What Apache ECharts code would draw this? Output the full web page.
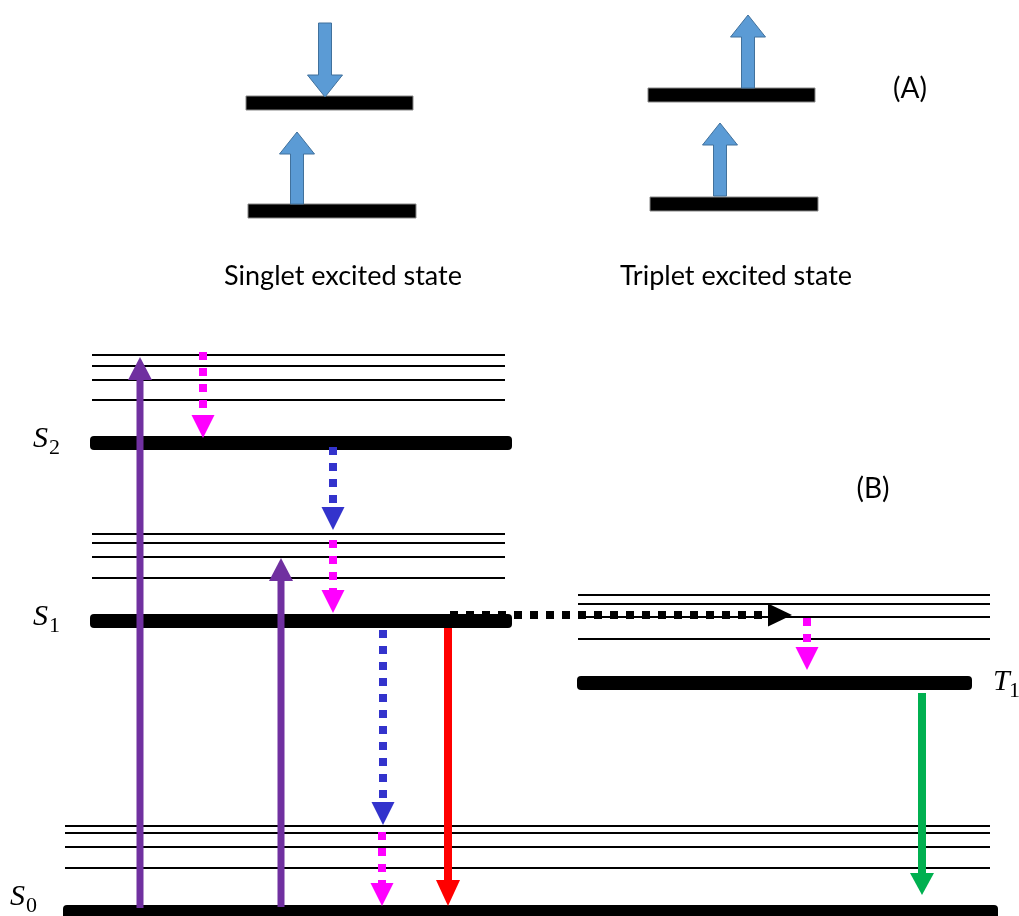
<!DOCTYPE html>
<html><head><meta charset="utf-8">
<script src="https://cdn.jsdelivr.net/npm/echarts@6/dist/echarts.min.js"></script>
<style>html,body{margin:0;padding:0;background:#fff}#c{width:1019px;height:916px}</style>
</head><body><div id="c"></div>
<script>
// ---- Diagram data (diagram units; y grows downward = lower energy) ----
// vibrational sub-levels
const s2Vib = [355, 366, 380, 400];
const s1Vib = [534, 543, 557, 578];
const t1Vib = [595, 604, 617, 639];
const s0Vib = [826, 833, 847, 868];
const singletSpan = [92, 505];
const tripletSpan = [578, 990];
const groundSpan = [65, 990];
// electronic states [x0, x1, y]
const stateBars = [[90, 512, 443], [90, 512, 621], [577, 972, 683], [63, 998, 912]];
const panelABars = [[246, 413, 103], [248, 416, 211], [648, 815, 95], [650, 818, 204]];
// spin arrows in panel A [x, yTail, yTip]
const spinArrows = [[325, 23, 97], [297, 204, 132], [748, 88, 15], [720, 196, 123]];
// transitions [x0, y0, x1, y1]
const absorption = [[140, 908, 357], [281, 907, 558]].map(a => [a[0], a[1], a[0], a[2]]);
const fluorescence = [[448, 628, 448, 906]];
const phosphorescence = [[922, 693, 922, 895]];
const internalConversion = [[333, 447, 333, 530], [383, 630, 383, 825]];
const vibRelaxation = [[203, 352, 203, 438], [333, 540, 333, 613], [382, 832, 382, 906], [807, 618, 807, 670]];
const intersystemCrossing = [[450, 615, 792, 615]];
// labels
const stateLabels = [['S', '2', 33, 439], ['S', '1', 33, 617], ['S', '0', 10, 897], ['T', '1', 993, 682]];
const panelLabels = [['(A)', 910, 89], ['(B)', 873, 489]];
const captions = [['Singlet excited state', 343, 276], ['Triplet excited state', 736, 276]];

const thinLevels = [];
s2Vib.forEach(y => thinLevels.push([singletSpan[0], singletSpan[1], y]));
s1Vib.forEach(y => thinLevels.push([singletSpan[0], singletSpan[1], y]));
t1Vib.forEach(y => thinLevels.push([tripletSpan[0], tripletSpan[1], y]));
s0Vib.forEach(y => thinLevels.push([groundSpan[0], groundSpan[1], y]));

function levelRender(params, api) {
  const a = api.coord([api.value(0), api.value(2)]);
  const b = api.coord([api.value(1), api.value(2)]);
  return { type: 'line', shape: { x1: a[0], y1: a[1], x2: b[0], y2: b[1] },
    style: { stroke: '#000', lineWidth: 2 } };
}
function barRender(r, stroke) {
  return function (params, api) {
    const a = api.coord([api.value(0), api.value(2)]);
    const b = api.coord([api.value(1), api.value(2)]);
    return { type: 'rect', shape: { x: a[0], y: a[1] - 7, width: b[0] - a[0], height: 14, r: r },
      style: { fill: '#000', stroke: stroke || null, lineWidth: stroke ? 1 : 0 } };
  };
}
function arrowRender(o) {
  return function (params, api) {
    const p0 = api.coord([api.value(0), api.value(1)]);
    const p1 = api.coord([api.value(2), api.value(3)]);
    const dx = p1[0] - p0[0], dy = p1[1] - p0[1];
    const len = Math.hypot(dx, dy), ux = dx / len, uy = dy / len;
    const bx = p1[0] - ux * o.head, by = p1[1] - uy * o.head;
    const px = -uy, py = ux;
    const ext = o.dash ? 0 : 2;
    return { type: 'group', children: [
      { type: 'line', shape: { x1: p0[0], y1: p0[1], x2: bx + ux * ext, y2: by + uy * ext },
        style: { stroke: o.color, lineWidth: o.width, lineDash: o.dash || null, lineCap: 'butt' } },
      { type: 'polygon', shape: { points: [[p1[0], p1[1]], [bx + px * o.half, by + py * o.half], [bx - px * o.half, by - py * o.half]] },
        style: { fill: o.color } }
    ] };
  };
}
function spinRender(params, api) {
  const x = api.value(0);
  const t = api.coord([x, api.value(1)]);
  const p = api.coord([x, api.value(2)]);
  const dir = p[1] < t[1] ? -1 : 1;
  const hl = 22, hw = 17.5, sw = 6.5;
  const by = p[1] - dir * hl;
  return { type: 'polygon', shape: { points: [
      [p[0], p[1]], [p[0] + hw, by], [p[0] + sw, by], [p[0] + sw, t[1]],
      [p[0] - sw, t[1]], [p[0] - sw, by], [p[0] - hw, by]] },
    style: { fill: '#5B9BD5', stroke: '#41719C', lineWidth: 1 } };
}
function stateLabelRender(params, api) {
  const l = stateLabels[params.dataIndex];
  const c = api.coord([l[2], l[3]]);
  return { type: 'group', children: [
    { type: 'text', x: c[0], y: c[1], style: { text: l[0], fontFamily: 'Liberation Serif', fontStyle: 'italic',
      fontSize: 30, fill: '#000', align: 'left', verticalAlign: 'middle' } },
    { type: 'text', x: c[0] + 16, y: c[1] + 9, style: { text: l[1], fontFamily: 'Liberation Serif',
      fontSize: 22, fill: '#000', align: 'left', verticalAlign: 'middle' } }
  ] };
}
function textRender(arr, size) {
  return function (params, api) {
    const l = arr[params.dataIndex];
    const c = api.coord([l[1], l[2]]);
    return { type: 'text', x: c[0], y: c[1], style: { text: l[0], fontFamily: 'Lato', fontSize: size,
      fill: '#000', align: 'center', verticalAlign: 'middle' } };
  };
}
const enc4 = { x: [0, 2], y: [1, 3] };
function arrowSeries(data, o) {
  return { type: 'custom', data: data, encode: enc4, clip: false, renderItem: arrowRender(o), z: 5 };
}
const dots = [8, 8];
const option = {
  animation: false,
  backgroundColor: '#fff',
  grid: { left: 0, right: 0, top: 0, bottom: 0 },
  xAxis: { type: 'value', min: 0, max: 1019, show: false },
  yAxis: { type: 'value', min: 0, max: 916, inverse: true, show: false },
  series: [
    { type: 'custom', data: thinLevels, encode: { x: [0, 1], y: 2 }, renderItem: levelRender, z: 1 },
    { type: 'custom', data: stateBars, encode: { x: [0, 1], y: 2 }, renderItem: barRender(4), z: 2 },
    { type: 'custom', data: panelABars, encode: { x: [0, 1], y: 2 }, renderItem: barRender(0, '#888'), z: 2 },
    { type: 'custom', data: spinArrows, encode: { x: 0, y: [1, 2] }, renderItem: spinRender, z: 3 },
    arrowSeries(absorption, { color: '#7030A0', width: 7, head: 23, half: 12 }),
    arrowSeries(fluorescence, { color: '#FF0000', width: 8, head: 26, half: 12 }),
    arrowSeries(phosphorescence, { color: '#00B050', width: 8, head: 22, half: 12 }),
    arrowSeries(internalConversion, { color: '#3333CC', width: 8, head: 23, half: 11.5, dash: dots }),
    arrowSeries(vibRelaxation, { color: '#FF00FF', width: 8, head: 23, half: 11.5, dash: dots }),
    arrowSeries(intersystemCrossing, { color: '#000000', width: 8, head: 24, half: 11.5, dash: dots }),
    { type: 'custom', data: stateLabels.map(l => [l[2], l[3]]), renderItem: stateLabelRender, z: 6 },
    { type: 'custom', data: panelLabels.map(l => [l[1], l[2]]), renderItem: textRender(panelLabels, 28), z: 6 },
    { type: 'custom', data: captions.map(l => [l[1], l[2]]), renderItem: textRender(captions, 27), z: 6 }
  ]
};
const chart = echarts.init(document.getElementById('c'));
chart.setOption(option);
</script></body></html>
